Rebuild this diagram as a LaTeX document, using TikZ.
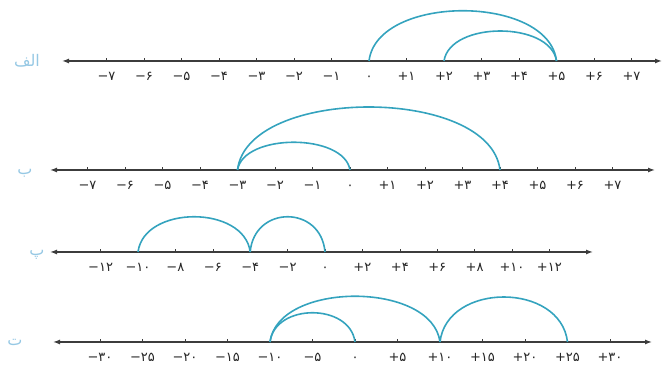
\documentclass[tikz,border=0pt]{standalone}
\usepackage{fontspec}
\usetikzlibrary{arrows.meta,positioning}
\newfontfamily\arabicfont[Script=Arabic]{DejaVu Sans}
\newfontfamily\numfont{DejaVu Sans}
\TeXXeTstate=1
\definecolor{arcteal}{RGB}{52,163,190}
\definecolor{lblblue}{RGB}{150,200,228}
\definecolor{axgray}{RGB}{60,60,60}
\tikzset{numline/.style={axgray,line width=1.3pt,{Latex[length=7pt,width=5pt]}-{Latex[length=7pt,width=5pt]}},
         tickmark/.style={axgray,line width=0.6pt},
         jump/.style={arcteal,line width=1.6pt}}
\tikzset{numlab/.style={font=\numfont\fontsize{13}{14}\selectfont,inner sep=1pt,text=black!85,text height=9pt,text depth=0pt},
         rowlab/.style={font=\arabicfont\fontsize{16}{17}\selectfont,text=lblblue}}

\begin{document}
\begin{tikzpicture}[x=1pt,y=1pt]
    \useasboundingbox (0,0) rectangle (664,374);
    % الف
    \coordinate (aL) at (62,313); \coordinate (aR) at (662,313);
    \draw[numline] (aL) -- (aR);
    \foreach \v/\lab in {-7/−۷,-6/−۶,-5/−۵,-4/−۴,-3/−۳,-2/−۲,-1/−۱,0/۰,1/+۱,2/+۲,3/+۳,4/+۴,5/+۵,6/+۶,7/+۷} {
        \coordinate (a\v) at ({369+37.5*(\v)},313);
        \draw[tickmark] (a\v) -- ++(0,2.5);
        \node[numlab,below=9.5pt of a\v] (la\v) {\lab};
    }
    \node[rowlab] (ra) at (27,313) {\beginR الف\endR};
    \draw[jump] (a0) .. controls +(8,67) and +(-8,67) .. (a5);
    \draw[jump] (a2) .. controls +(6,40) and +(-6,40) .. (a5);
    % ب
    \coordinate (bL) at (50,204); \coordinate (bR) at (655,204);
    \draw[numline] (bL) -- (bR);
    \foreach \v/\lab in {-7/−۷,-6/−۶,-5/−۵,-4/−۴,-3/−۳,-2/−۲,-1/−۱,0/۰,1/+۱,2/+۲,3/+۳,4/+۴,5/+۵,6/+۶,7/+۷} {
        \coordinate (b\v) at ({350+37.5*(\v)},204);
        \draw[tickmark] (b\v) -- ++(0,2.5);
        \node[numlab,below=9.5pt of b\v] (lb\v) {\lab};
    }
    \node[rowlab] (rb) at (25,201) {\beginR ب\endR};
    \draw[jump] (b-3) .. controls +(10,84) and +(-10,84) .. (b4);
    \draw[jump] (b-3) .. controls +(6,37) and +(-6,37) .. (b0);
    % پ
    \coordinate (cL) at (50,122); \coordinate (cR) at (593,122);
    \draw[numline] (cL) -- (cR);
    \foreach \v/\lab in {-12/−۱۲,-10/−۱۰,-8/−۸,-6/−۶,-4/−۴,-2/−۲,0/۰,2/+۲,4/+۴,6/+۶,8/+۸,10/+۱۰,12/+۱۲} {
        \coordinate (c\v) at ({325+18.7*(\v)},122);
        \draw[tickmark] (c\v) -- ++(0,2.5);
        \node[numlab,below=9.5pt of c\v] (lc\v) {\lab};
    }
    \node[rowlab] (rc) at (37,119) {\beginR پ\endR};
    \draw[jump] (c-10) .. controls +(6,47) and +(-6,47) .. (c-4);
    \draw[jump] (c-4) .. controls +(4,47) and +(-4,47) .. (c0);
    % ت
    \coordinate (dL) at (53,32); \coordinate (dR) at (652,32);
    \draw[numline] (dL) -- (dR);
    \foreach \v/\lab in {-30/−۳۰,-25/−۲۵,-20/−۲۰,-15/−۱۵,-10/−۱۰,-5/−۵,0/۰,5/+۵,10/+۱۰,15/+۱۵,20/+۲۰,25/+۲۵,30/+۳۰} {
        \coordinate (d\v) at ({355+8.5*(\v)},32);
        \draw[tickmark] (d\v) -- ++(0,2.5);
        \node[numlab,below=9.5pt of d\v] (ld\v) {\lab};
    }
    \node[rowlab] (rd) at (15,32) {\beginR ت\endR};
    \draw[jump] (d-10) .. controls +(8,61) and +(-8,61) .. (d10);
    \draw[jump] (d-10) .. controls +(5,39) and +(-5,39) .. (d0);
    \draw[jump] (d10) .. controls +(7,60) and +(-7,60) .. (d25);
\end{tikzpicture}
\end{document}
